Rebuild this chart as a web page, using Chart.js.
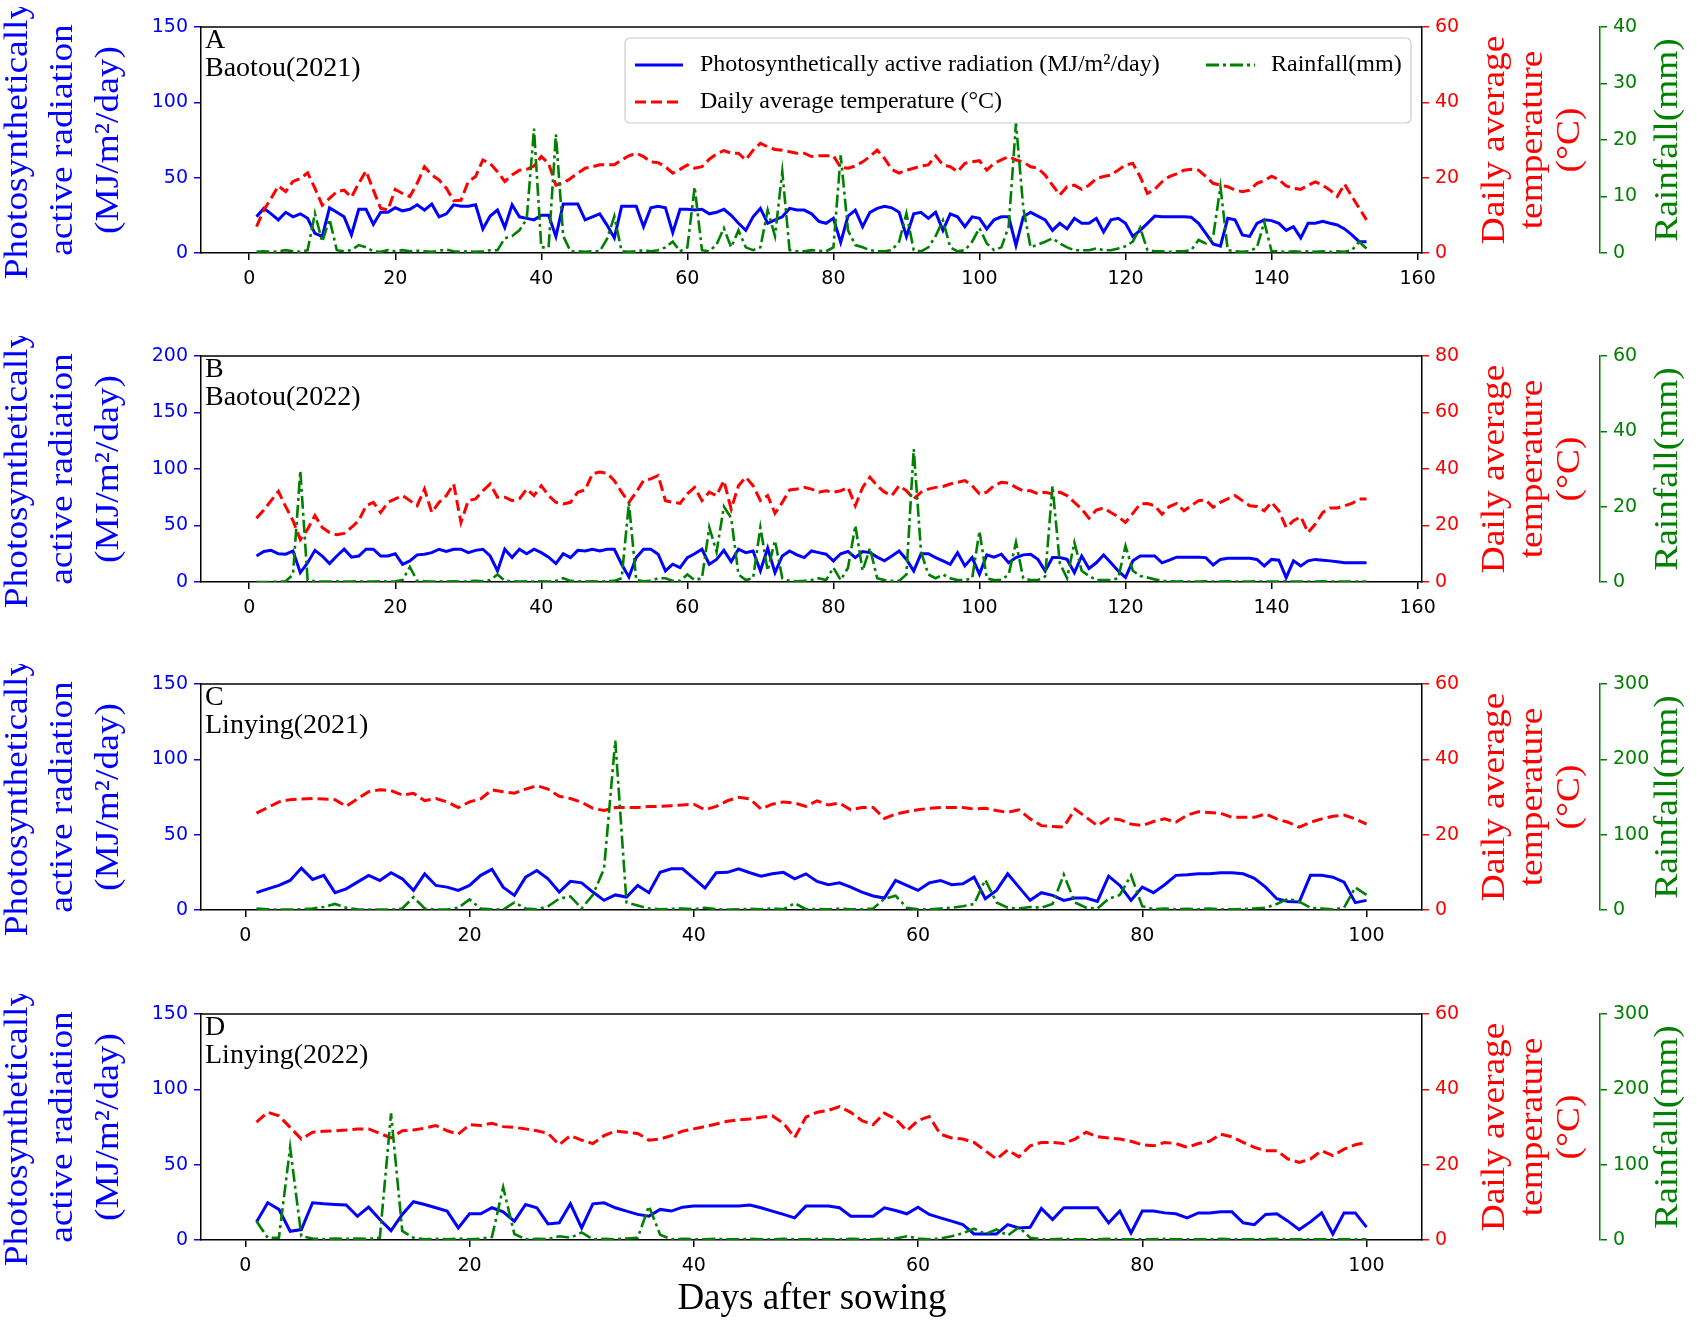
<!DOCTYPE html>
<html>
<head>
<meta charset="utf-8">
<script src="https://cdn.jsdelivr.net/npm/chart.js@4.4.0/dist/chart.umd.min.js"></script>
<style>
  body { margin: 0; background: #fff; width: 1701px; height: 1323px; position: relative; overflow: hidden; }
  canvas { position: absolute; left: 0; }
  #xlabel { position: absolute; left: 562px; width: 500px; top: 1275px; text-align: center;
            font-family: 'Liberation Serif', serif; font-size: 37px; color: #000; }
</style>
</head>
<body>
<canvas id="chartA" width="1701" height="296" style="top:7px"></canvas>
<canvas id="chartB" width="1701" height="296" style="top:336px"></canvas>
<canvas id="chartC" width="1701" height="296" style="top:664px"></canvas>
<canvas id="chartD" width="1701" height="296" style="top:994px"></canvas>
<div id="xlabel">Days after sowing</div>
<script>
// x tick labels
const xTicksLong = [0, 20, 40, 60, 80, 100, 120, 140, 160];
const xTicksShort = [0, 20, 40, 60, 80, 100];

// A: Baotou(2021), days 1-153
const parA = [24, 29.6, 26, 22, 27, 24, 26, 23, 13, 11, 30, 27, 24, 12, 29, 29, 19, 27, 27, 30,
  28, 29, 32, 28.5, 32.5, 24, 26, 32, 31, 31, 32, 16, 24.5, 28.5, 17, 32, 24, 23, 22, 25,
  25, 11, 32.5, 32.5, 32.5, 22, 24, 26, 18.5, 10, 31, 31, 31, 17.5, 30, 31, 30, 13.5, 29, 29,
  28.5, 29, 26, 27, 29, 25, 19.7, 15, 24, 29.6, 19.7, 22, 24, 29.6, 28.5, 28.5, 26, 21, 19.7, 23,
  7, 24.5, 28.5, 17.5, 27, 29.6, 31, 30, 27, 11, 26, 27, 23, 27, 15, 26, 24, 17.5, 24, 23,
  16, 22, 24, 24, 5, 24, 27, 24.5, 22, 15, 19.7, 16, 23, 19.7, 19.7, 23, 14, 22, 23, 19.7,
  11, 15, 19.7, 24.5, 24, 24, 24, 24, 23.7, 19.7, 13, 6, 4.6, 23, 22, 12, 11, 19.7, 22, 21.5,
  19.7, 15, 17.5, 10, 19.7, 19.7, 21, 19.7, 18.6, 16, 12, 7.5, 7.5];
const tempA = [7, 11.4, 14.5, 17.8, 16.3, 19, 19.8, 21.3, 17.2, 12.7, 14.5, 16.3, 16.7, 14.8, 18.5, 21.8, 16.7, 11.9, 11.4, 16.9,
  15.8, 15, 18.5, 22.9, 20.7, 19.4, 17.2, 13.9, 14, 19, 20.3, 24.7, 23.8, 21.6, 19, 20.7, 22, 22.2, 23.1, 25.6,
  23.8, 18, 18.5, 19.8, 21.2, 22.5, 22.9, 23.4, 23.4, 23.4, 24.7, 25.8, 26.5, 25.6, 24.2, 24, 22.9, 21.2, 22.2, 23.4,
  22.5, 22.9, 24.9, 26.3, 27.2, 26.5, 26.5, 24.7, 27.3, 29.1, 28.2, 27.5, 27.3, 26.9, 26.5, 26.5, 25.6, 25.8, 25.8, 25.8,
  22.7, 22.5, 23.1, 24.2, 25.6, 27.3, 25.1, 22.2, 21.2, 22, 22.5, 23.1, 23.4, 25.8, 23.4, 22.9, 21.6, 23.8, 24.2, 24.5,
  22, 23.8, 24.7, 25.6, 24.7, 24.2, 22.9, 22.5, 20.7, 18, 15.4, 17.6, 18, 16.9, 18, 19.8, 20.3, 20.7, 22, 23.4,
  23.8, 20.3, 15.8, 16.9, 18.9, 20.3, 21, 22, 22.2, 22, 20.3, 18.5, 18, 17.6, 16.7, 16.3, 16.7, 18.5, 19.2, 20.4,
  19.5, 17.8, 17.2, 16.9, 18, 18.9, 18, 16.7, 15, 18.3, 15, 11.9, 8.8];
const rainA = [0.2, 0.3, 0.2, 0.3, 0.5, 0.3, 0.2, 0.5, 7, 2, 6, 0.5, 0.3, 0.5, 1.4, 1, 0.3, 0.2, 0.5, 0.3,
  0.5, 0.3, 0.4, 0.3, 0.2, 0.4, 0.6, 0.3, 0.2, 0.3, 0.2, 0.3, 0.5, 0.5, 2.6, 3, 4, 6, 22, 1,
  1, 21, 3, 0.3, 0.3, 0.2, 0.3, 0.3, 2.5, 6.5, 0.3, 0.2, 0.3, 0.5, 0.3, 0.5, 1, 2, 0.3, 1,
  11.7, 0.5, 0.3, 1.5, 4.4, 1, 4, 1, 0.5, 1, 7.6, 3, 14.4, 0.5, 0.3, 0.3, 0.5, 0.4, 0.3, 1,
  17.3, 4, 1.4, 1, 0.5, 0.3, 0.3, 0.5, 2, 7, 0.5, 0.3, 1, 3, 5.8, 1, 0.3, 0.5, 2, 4.4,
  1.7, 0.5, 1, 4.7, 23, 8, 1, 1.5, 2, 2.6, 1.7, 1, 0.5, 0.5, 0.5, 0.8, 0.5, 0.5, 0.8, 1.2,
  2, 4.5, 0.5, 0.3, 0.3, 0.2, 0.3, 0.3, 0.5, 2.3, 1.7, 2.9, 11.7, 0.5, 0.3, 0.2, 0.3, 1, 5.5, 0.3,
  0.3, 0.2, 0.3, 0.2, 0.3, 0.2, 0.3, 0.2, 0.3, 0.2, 0.5, 2, 0.8];

// B: Baotou(2022), days 1-153
const parB = [23, 27, 28, 25, 24.6, 27.5, 8.3, 17, 28, 23, 16.3, 23, 29, 22, 23, 29, 29, 23, 23, 25,
  15.7, 18.7, 24, 24.6, 26, 29, 27, 29, 29, 26, 28, 29, 23, 9.8, 29, 21.6, 29, 25, 29, 26,
  22, 16.3, 25, 21.6, 28, 27.5, 29, 27.5, 29, 29, 15.7, 4.4, 21.6, 29, 29, 24.6, 9.8, 15.7, 12.7, 21.6,
  25, 29, 15.7, 20, 28, 18, 29, 26, 27.5, 9.8, 30, 8.3, 23, 27.5, 24, 21.6, 27.5, 26, 24.6, 18.7,
  25, 27, 21.6, 27, 26, 22, 18.7, 23, 27.5, 20, 9.8, 25, 25, 21.6, 18.7, 15.7, 26, 14.2, 21.6, 6.8,
  24, 22, 24.6, 17, 21.6, 24, 24.6, 20, 9.8, 21.6, 21.6, 20, 8.3, 23, 12, 17, 24, 17, 9.8, 3.9,
  18.7, 23, 23, 23, 17, 19.3, 22, 22, 22, 22, 21.6, 15, 20, 21, 21, 21, 21, 20, 14.2, 20,
  19.3, 3.9, 18.7, 14.2, 18.7, 20, 19.3, 18.7, 18, 17, 17, 17, 17];
const tempB = [22.6, 25.5, 28.8, 32.1, 26.7, 21.7, 15, 18.7, 23.5, 19.3, 17.5, 16.7, 17.2, 19.3, 21.7, 27, 28.2, 24.6, 28.2, 29.4,
  30.6, 28.8, 27, 32.9, 24.6, 28.2, 30.6, 34.7, 21.1, 28.8, 29.4, 32.3, 34.7, 30, 30, 28.8, 29.4, 32.9, 30.6, 34.1,
  30.6, 28.2, 27.6, 28.2, 31.8, 32.6, 38.3, 38.9, 38.5, 35.9, 31.8, 28.2, 31.8, 35.9, 36.5, 37.7, 28.8, 28.2, 27.8, 31.2,
  33.5, 28.8, 31.8, 30.6, 35.9, 25.8, 34.1, 37.1, 34.1, 28.8, 30.6, 24.3, 28.2, 32.6, 32.9, 33.5, 32.9, 31.8, 32.3, 31.8,
  32.3, 33.5, 27, 33.5, 37.1, 34.1, 31.8, 30.6, 34.1, 32.3, 29.4, 31.8, 32.9, 33.5, 33.8, 34.7, 35.3, 35.9, 34.1, 31.2,
  31.8, 34.1, 35.3, 35, 33.5, 32.3, 32.3, 31.2, 31.8, 31.2, 31.8, 30.6, 28.2, 25.8, 22.6, 25.5, 26.2, 24.6, 23.1, 21.1,
  24.3, 27.6, 27.8, 27, 24, 26.7, 27.8, 25.2, 27, 28.8, 29, 26.4, 28.2, 29.4, 30.6, 28.8, 27, 26.7, 25.2, 28.2,
  25.2, 19.3, 21.7, 23.1, 17.5, 20.5, 24.6, 26.2, 26.2, 27, 27.8, 29.4, 29.4];
const rainB = [0, 0, 0, 0.1, 0.2, 2, 29.5, 0.5, 0.2, 0.1, 0.1, 0.2, 0.1, 0.1, 0.2, 0.1, 0.1, 0.2, 0.1, 0.2,
  0.5, 4, 0.3, 0.2, 0.1, 0.2, 0.1, 0.2, 0.1, 0.2, 0.3, 0.2, 0.5, 2, 0.3, 0.2, 0.1, 0.2, 0.1, 0.2,
  0.1, 0.3, 1, 0.3, 0.2, 0.1, 0.2, 0.1, 0.2, 0.3, 1, 21, 0.5, 0.2, 0.3, 1, 1, 0.3, 0.3, 2,
  0.5, 1, 14.5, 8, 20, 17, 2, 0.5, 1, 14.5, 3, 11, 1, 0.3, 0.2, 0.3, 0.5, 1, 0.5, 3.8,
  0.5, 3.8, 15, 3, 9, 1, 0.5, 0.3, 0.3, 2, 35.3, 8, 2, 1, 2, 1, 0.5, 0.5, 1, 13.5,
  1, 0.5, 0.5, 2, 10.5, 1, 0.5, 0.5, 1.5, 25.5, 5, 1, 10.5, 3, 1.6, 0.5, 0.5, 0.5, 1, 9.6,
  3, 1.6, 1.2, 0.7, 0.3, 0.2, 0.1, 0.2, 0.1, 0.1, 0.2, 0.1, 0.1, 0.2, 0.1, 0.1, 0.1, 0.2, 0.1, 0.1,
  0.1, 0.2, 0.1, 0.1, 0.1, 0.1, 0.2, 0.1, 0.1, 0.1, 0.1, 0.1, 0.1];

// C: Linying(2021), days 1-100
const parC = [11.5, 14, 16.3, 19.6, 27.8, 20.3, 23, 11.5, 14, 18.5, 23, 19.6, 24.7, 20.7, 13, 24, 16.3, 15.2, 13, 16.3,
  23, 27, 15.2, 9.7, 21.8, 26.2, 20.7, 11.9, 19, 18, 11.9, 6.4, 10, 8.6, 16.3, 11.5, 25, 27.3, 27.3, 21,
  14.5, 24.7, 25, 27.3, 24.7, 22.5, 24, 25, 20.7, 24, 19, 16.8, 18, 15.2, 11.9, 9.3, 7.9, 19.6, 16.3, 13,
  18, 19.6, 16.8, 17.4, 21.8, 7.5, 13, 24, 15.2, 6.4, 11.5, 9.7, 6.4, 7.9, 7.9, 5.7, 22.5, 16.3, 6.4, 15.2,
  11.5, 16.8, 23, 23.4, 24, 24, 24.7, 24.7, 24, 21, 15.2, 7.5, 5.7, 5.3, 23, 23, 21.8, 18.5, 4.9, 6.4];
const tempC = [25.7, 27.2, 28.7, 29.3, 29.5, 29.6, 29.5, 29.3, 27.5, 29.5, 31.4, 31.9, 31.7, 30.5, 31, 29, 29.6, 28.7, 27.2, 28.7,
  29.5, 31.9, 31.4, 31, 32.1, 33, 32.1, 30.2, 29.6, 28.6, 27, 26.4, 27.2, 27.2, 27.2, 27.5, 27.5, 27.7, 27.9, 28.1,
  26.6, 27.5, 29, 29.9, 29.5, 26.8, 28.1, 28.7, 28.4, 27.5, 29, 27.9, 28.4, 26.6, 27.2, 27.2, 24.3, 25.5, 26.1, 26.6,
  27, 27.2, 27.2, 27.2, 26.8, 27, 26.4, 25.9, 26.6, 24.2, 22.4, 22.2, 22, 26.8, 24.6, 22.4, 24.3, 24, 22.8, 22.4,
  23.5, 24.2, 23.3, 25.2, 26.1, 25.9, 25.7, 24.6, 24.6, 24.6, 25.5, 24.2, 23.3, 22, 23.3, 24.2, 24.9, 25.2, 24.2, 22.8];
const rainC = [2, 1, 0.5, 0.5, 1, 2, 4, 8, 3, 1, 0.5, 0.5, 0.5, 2, 17, 2, 0.5, 0.5, 3, 14,
  2, 1, 0.5, 10, 2, 1, 5, 15, 18, 2, 20, 55, 225, 10, 6, 2, 1, 1.5, 2, 1,
  3, 1, 0.5, 1, 1.5, 1, 2, 1, 9, 1, 1.5, 1, 2, 1, 1, 2, 15, 19, 3, 1,
  1, 2, 3, 5, 8, 40, 10, 3, 2, 4, 3, 8, 47, 10, 3, 2, 15, 20, 46, 5,
  1, 2, 1, 1.5, 1, 2, 1, 1, 1.5, 2, 3, 8, 15, 11, 3, 2, 1, 3, 30, 20];

// D: Linying(2022), days 1-100
const parD = [12, 24.7, 20.3, 5.8, 6.9, 24.7, 24, 23.6, 23.2, 15.8, 21.8, 13.6, 6.2, 17, 25.4, 23.6, 21.4, 19.2, 8, 17.4,
  17.4, 21.4, 18.7, 12.5, 23.6, 21.4, 10.7, 11.4, 24, 8, 24, 24.7, 21.4, 19.2, 17, 15.8, 20.3, 19.2, 21.8, 22.5,
  22.5, 22.5, 22.5, 22.5, 23.2, 21.4, 19.2, 17, 14.7, 22.5, 22.5, 22.5, 21.4, 15.8, 15.8, 15.8, 21.4, 19.6, 17.4, 21.8,
  17, 14.7, 12.5, 10.2, 4, 4, 4, 10.2, 8, 8.5, 21, 13.6, 21.4, 21.4, 21.4, 21.4, 11.4, 19.2, 4.7, 19.2,
  19.2, 18, 17.4, 14.7, 18, 18, 18.7, 18.7, 11.4, 10.2, 17, 17.4, 12.5, 6.9, 12, 18, 4, 18, 18, 8.5];
const tempD = [31.3, 33.9, 33, 29.9, 26.8, 28.6, 28.9, 29, 29.2, 29.5, 29.5, 28.3, 27.1, 29, 29.2, 29.7, 30.4, 29, 28.1, 30.6,
  30.4, 31, 30.1, 29.9, 29.5, 29, 28.3, 25.3, 27.7, 26.5, 25.6, 27.7, 28.9, 28.6, 28.3, 26.5, 26.8, 27.7, 28.9, 29.5,
  30.1, 30.8, 31.5, 31.9, 32.1, 32.6, 33, 31, 27.2, 32.6, 33.9, 34.4, 35.4, 33.9, 31.7, 30.6, 33.7, 32.1, 29, 31.7,
  32.8, 28.1, 27.1, 26.8, 25.9, 23.7, 21.5, 23.9, 22.1, 25, 25.9, 25.9, 25.6, 26.8, 28.6, 27.4, 27.1, 26.8, 26.2, 25.3,
  25, 25.9, 25.6, 24.6, 25.6, 26.2, 28.1, 27.4, 25.9, 24.6, 23.7, 23.7, 21.5, 20.6, 21.5, 23.7, 22.4, 24.1, 25.3, 25.9];
const rainD = [25, 3, 3, 123, 5, 2, 1, 2, 1.5, 2, 1.5, 3, 168, 12, 3, 1, 1.5, 1, 2, 1,
  1.5, 4, 70, 8, 1, 1.5, 1, 5, 3, 10, 1, 1.5, 1, 2, 3, 45, 7, 1, 1.5, 1,
  1, 1.5, 1, 1, 1.5, 1, 1, 1.5, 1, 1, 1.5, 1, 1, 1.5, 1, 1, 1.5, 2, 5, 2,
  1, 2, 5, 9, 15, 8, 14, 6, 17, 3, 1, 1, 1.5, 1, 1, 1, 1.5, 1, 1, 1,
  1, 1.5, 1, 1, 1, 1, 1.5, 1, 1, 1, 1, 1.5, 1, 1, 1, 1, 1, 1, 1, 1];

const BLUE = '#0000ff';
const RED = '#ff0000';
const GREEN = '#008000';
const TICK_FONT = { family: 'DejaVu Sans', size: 19 };
const SERIF = "'Liberation Serif', 'Times New Roman', serif";

const panels = [
  { id: 'chartA', tag: 'A', site: 'Baotou(2021)', par: parA, temp: tempA, rain: rainA, xMin: -6.6, xMax: 160.6, xTicks: xTicksLong,
    parMax: 150, tempMax: 60, rainMax: 40, rainStep: 10, legend: true },
  { id: 'chartB', tag: 'B', site: 'Baotou(2022)', par: parB, temp: tempB, rain: rainB, xMin: -6.6, xMax: 160.6, xTicks: xTicksLong,
    parMax: 200, tempMax: 80, rainMax: 60, rainStep: 20 },
  { id: 'chartC', tag: 'C', site: 'Linying(2021)', par: parC, temp: tempC, rain: rainC, xMin: -3.95, xMax: 104.95, xTicks: xTicksShort,
    parMax: 150, tempMax: 60, rainMax: 300, rainStep: 100 },
  { id: 'chartD', tag: 'D', site: 'Linying(2022)', par: parD, temp: tempD, rain: rainD, xMin: -3.95, xMax: 104.95, xTicks: xTicksShort,
    parMax: 150, tempMax: 60, rainMax: 300, rainStep: 100 }
];

// rotated axis title, stretched a little along its length like the original figure
function vText(ctx, text, x, y, color) {
  ctx.save();
  ctx.translate(x, y);
  ctx.rotate(-Math.PI / 2);
  ctx.scale(1.1, 1);
  ctx.font = `34px ${SERIF}`;
  ctx.fillStyle = color;
  ctx.textAlign = 'center';
  ctx.textBaseline = 'middle';
  ctx.fillText(text, 0, 0);
  ctx.restore();
}

function roundRect(ctx, x, y, w, h, r) {
  ctx.beginPath();
  ctx.moveTo(x + r, y);
  ctx.arcTo(x + w, y, x + w, y + h, r);
  ctx.arcTo(x + w, y + h, x, y + h, r);
  ctx.arcTo(x, y + h, x, y, r);
  ctx.arcTo(x, y, x + w, y, r);
  ctx.closePath();
}

function legendLine(ctx, x1, x2, y, color, dash, width) {
  ctx.save();
  ctx.strokeStyle = color;
  ctx.lineWidth = width;
  ctx.setLineDash(dash);
  ctx.beginPath();
  ctx.moveTo(x1, y);
  ctx.lineTo(x2, y);
  ctx.stroke();
  ctx.restore();
}

function drawLegend(ctx, a) {
  const x = a.left + 424, y = a.top + 11;
  ctx.save();
  roundRect(ctx, x, y, 786, 85, 5);
  ctx.fillStyle = 'rgba(255,255,255,0.85)';
  ctx.fill();
  ctx.strokeStyle = '#cccccc';
  ctx.lineWidth = 1.2;
  ctx.stroke();
  ctx.font = `24px ${SERIF}`;
  ctx.fillStyle = '#000';
  ctx.textBaseline = 'middle';
  ctx.textAlign = 'left';
  const r1 = a.top + 38, r2 = a.top + 75;
  legendLine(ctx, a.left + 434, a.left + 482, r1, BLUE, [], 3);
  ctx.fillText('Photosynthetically active radiation (MJ/m²/day)', a.left + 499, r1);
  legendLine(ctx, a.left + 434, a.left + 482, r2, RED, [11, 5], 3);
  ctx.fillText('Daily average temperature (°C)', a.left + 499, r2);
  legendLine(ctx, a.left + 1005, a.left + 1054, r1, GREEN, [13, 4, 3, 4], 3);
  ctx.fillText('Rainfall(mm)', a.left + 1070, r1);
  ctx.restore();
}

const decorations = {
  id: 'decorations',
  afterDraw(chart, args, opts) {
    const ctx = chart.ctx;
    const a = chart.chartArea;
    const cy = (a.top + a.bottom) / 2;
    ctx.save();
    // top spine
    ctx.strokeStyle = '#000';
    ctx.lineWidth = 1.5;
    ctx.beginPath();
    ctx.moveTo(a.left, a.top);
    ctx.lineTo(a.right, a.top);
    ctx.stroke();

    // panel tag and site
    ctx.font = `28px ${SERIF}`;
    ctx.fillStyle = '#000';
    ctx.textAlign = 'left';
    ctx.textBaseline = 'middle';
    ctx.fillText(opts.tag, a.left + 4, a.top + 14);
    ctx.fillText(opts.site, a.left + 4, a.top + 42);

    // axis titles
    vText(ctx, 'Photosynthetically', 18, cy, BLUE);
    vText(ctx, 'active radiation', 63, cy, BLUE);
    vText(ctx, '(MJ/m²/day)', 109, cy, BLUE);
    vText(ctx, 'Daily average', 1495, cy, RED);
    vText(ctx, 'temperature', 1533, cy, RED);
    vText(ctx, '(°C)', 1570, cy, RED);
    vText(ctx, 'Rainfall(mm)', 1668, cy, GREEN);

    if (opts.legend) drawLegend(ctx, a);
    ctx.restore();
  }
};

function yAxis(position, max, step, color, borderColor, width) {
  return {
    type: 'linear',
    position,
    min: 0,
    max,
    ticks: { stepSize: step, color, font: TICK_FONT, padding: 6 },
    grid: { display: true, drawOnChartArea: false, drawTicks: true, tickLength: 7, color, lineWidth: 1.5 },
    border: { display: true, color: borderColor, width: 1.5 },
    afterFit: s => { s.width = width; }
  };
}

function buildPanel(p) {
  const days = p.par.map((_, i) => i + 1);
  const toPoints = arr => arr.map((v, i) => ({ x: days[i], y: v }));
  new Chart(document.getElementById(p.id), {
    type: 'line',
    data: {
      datasets: [
        { data: toPoints(p.par), yAxisID: 'yPar', borderColor: BLUE, borderWidth: 3, order: 2 },
        { data: toPoints(p.temp), yAxisID: 'yTemp', borderColor: RED, borderWidth: 3, borderDash: [11, 5], order: 1 },
        { data: toPoints(p.rain), yAxisID: 'yRain', borderColor: GREEN, borderWidth: 2.6, borderDash: [13, 4, 3, 4], order: 0 }
      ]
    },
    options: {
      responsive: false,
      animation: false,
      devicePixelRatio: 1,
      layout: { padding: { top: 20, left: 0, right: 0, bottom: 0 } },
      elements: { point: { radius: 0 }, line: { tension: 0, fill: false } },
      plugins: {
        legend: { display: false },
        tooltip: { enabled: false },
        decorations: { tag: p.tag, site: p.site, legend: !!p.legend }
      },
      scales: {
        x: {
          type: 'linear',
          min: p.xMin,
          max: p.xMax,
          afterBuildTicks: s => { s.ticks = p.xTicks.map(v => ({ value: v })); },
          ticks: { color: '#000', font: TICK_FONT, padding: 8, maxRotation: 0, autoSkip: false },
          grid: { display: true, drawOnChartArea: false, drawTicks: true, tickLength: 7, color: '#000', lineWidth: 1.5 },
          border: { display: true, color: '#000', width: 1.5 },
          afterFit: s => { s.height = 50; }
        },
        yPar: yAxis('left', p.parMax, 50, BLUE, '#000', 201),
        yTemp: yAxis('right', p.tempMax, 20, RED, '#000', 178),
        yRain: yAxis('right', p.rainMax, p.rainStep, GREEN, GREEN, 101)
      }
    },
    plugins: [decorations]
  });
}

document.addEventListener('DOMContentLoaded', () => {
  panels.forEach(buildPanel);
});
</script>
</body>
</html>
